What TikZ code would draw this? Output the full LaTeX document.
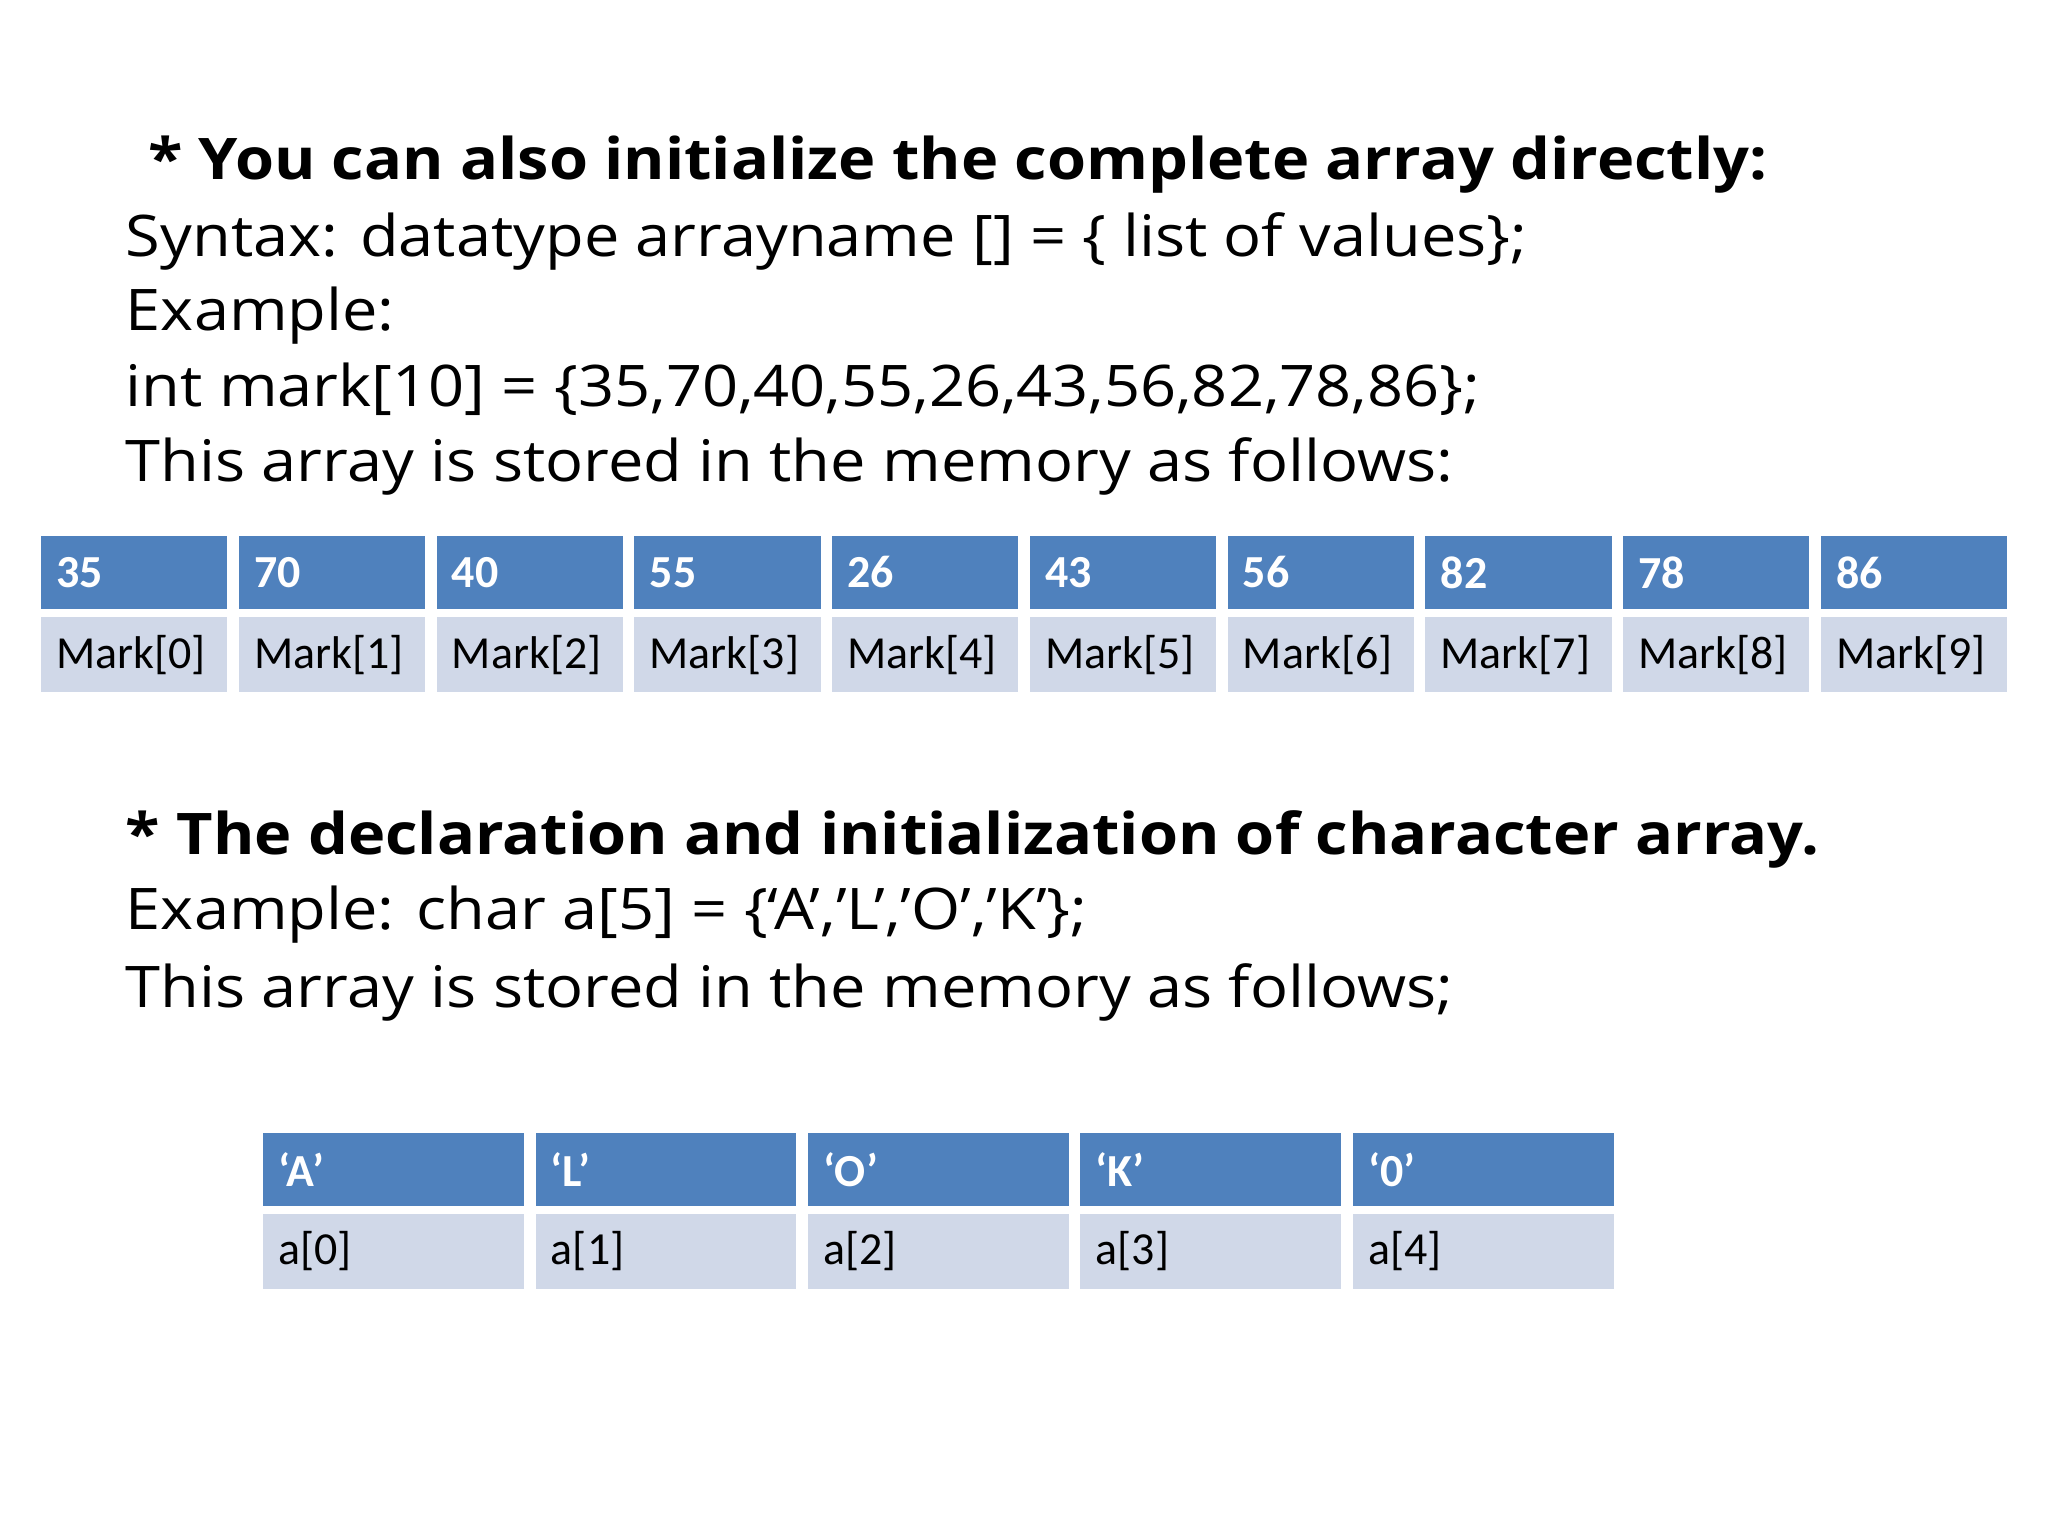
\documentclass[tikz,border=0pt]{standalone}
\usepackage{fontspec}
\setmainfont{Open Sans}[FakeStretch=1.1]
\newfontfamily\tabfont{Carlito}
\definecolor{hdr}{RGB}{79,129,189}
\definecolor{rowc}{RGB}{208,216,232}
\begin{document}
\begin{tikzpicture}[x=0.02cm,y=-0.02cm,
  txt/.style={anchor=west,inner sep=0pt,font=\fontsize{25}{30}\selectfont},
  btxt/.style={txt,font=\fontsize{25}{30}\selectfont\bfseries},
  hcell/.style={fill=hdr,draw=white,line width=2.5pt,minimum height=60*0.02cm,anchor=north west,text=white,font=\tabfont\fontsize{20}{24}\selectfont\bfseries,align=left,text width=#1*0.02cm-18.5pt,inner xsep=8pt},
  rcell/.style={fill=rowc,draw=white,line width=2.5pt,minimum height=62*0.02cm,anchor=north west,font=\tabfont\fontsize{20}{24}\selectfont,align=left,text width=#1*0.02cm-18.5pt,inner xsep=8pt}]
\useasboundingbox (0,0) rectangle (1568,1176);
\fill[white] (0,0) rectangle (1568,1176);
\node[btxt] (t1) at (113,126) {* You can also initialize the complete array directly:};
\node[txt] (t2) at (96,185) {Syntax: datatype arrayname [] = \{ list of values\};};
\node[txt] (t3) at (96,242) {Example:};
\node[txt] (t4) at (96,298) {int mark[10] = \{35,70,40,55,26,43,56,82,78,86\};};
\node[txt] (t5) at (96,357) {This array is stored in the memory as follows:};
\foreach \v [count=\i from 0] in {35,70,40,55,26,43,56,82,78,86} {
  \node[hcell=151.4] (h\i) at (27+\i*151.4,406) {\v};
  \node[rcell=151.4] (r\i) at (27+\i*151.4,468) {Mark[\i]};
}
\node[btxt] (t6) at (96,643) {* The declaration and initialization of character array.};
\node[txt] (t7) at (96,700) {Example: char a[5] = \{‘A’,’L’,’O’,’K’\};};
\node[txt] (t8) at (96,760) {This array is stored in the memory as follows;};
\foreach \v [count=\i from 0] in {‘A’,‘L’,‘O’,‘K’,‘0’} {
  \node[hcell=208.6] (H\i) at (197+\i*208.6,863) {\v};
  \node[rcell=208.6] (R\i) at (197+\i*208.6,925) {a[\i]};
}
\end{tikzpicture}
\end{document}
